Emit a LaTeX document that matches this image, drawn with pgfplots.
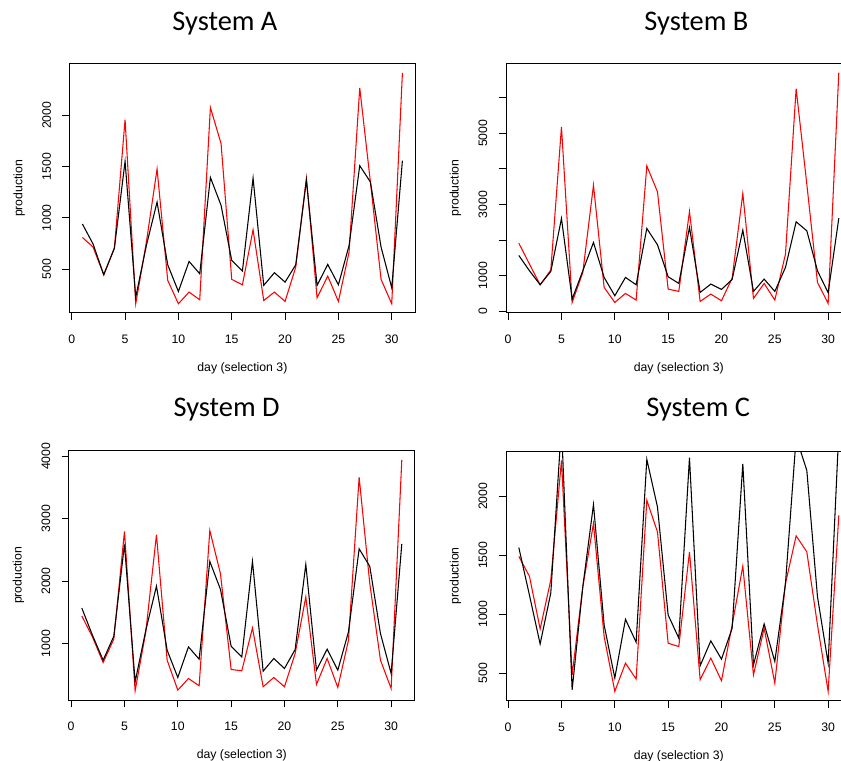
\documentclass[border=0pt]{standalone}
\usepackage{fontspec}
\setmainfont{Liberation Sans}
\newfontfamily\titlefont{Carlito}
\usepackage{pgfplots}
\pgfplotsset{compat=1.18}
\usepackage{pgfplotstable}

% columns: day, black series, red series
\pgfplotstableread{
day blk red
1 940 809
2 745 715
3 445 445
4 705 705
5 1551 1958
6 227 162
7 731 764
8 1154 1477
9 542 390
10 282 162
11 575 276
12 455 201
13 1394 2076
14 1122 1724
15 585 400
16 481 347
17 1388 884
18 341 194
19 465 276
20 373 185
21 542 520
22 1366 1388
23 341 220
24 546 432
25 347 185
26 731 666
27 1509 2268
28 1350 1350
29 715 400
30 318 162
31 1558 2414
}\tabA

\pgfplotstableread{
day blk red
1 1570 1916
2 1140 1327
3 748 748
4 1121 1159
5 2607 5178
6 346 252
7 1140 1093
8 1935 3542
9 953 673
10 439 252
11 953 505
12 748 318
13 2327 4084
14 1869 3355
15 972 626
16 785 561
17 2355 2804
18 533 280
19 766 486
20 617 299
21 897 935
22 2280 3308
23 561 364
24 907 785
25 561 318
26 1234 1607
27 2514 6252
28 2262 3570
29 1140 813
30 523 224
31 2617 6701
}\tabB

\pgfplotstableread{
day blk red
1 1570 1442
2 1133 1107
3 734 697
4 1117 1070
5 2588 2796
6 388 244
7 1213 1187
8 1921 2743
9 894 734
10 457 254
11 947 441
12 750 324
13 2316 2811
14 1868 2119
15 958 585
16 787 564
17 2316 1251
18 558 308
19 761 457
20 601 308
21 904 840
22 2268 1746
23 574 345
24 910 761
25 574 297
26 1187 1053
27 2518 3664
28 2236 1959
29 1160 734
30 521 281
31 2598 3941
}\tabD

\pgfplotstableread{
day blk red
1 1565 1490
2 1160 1320
3 747 874
4 1180 1290
5 2600 2304
6 358 485
7 1232 1232
8 1929 1768
9 908 809
10 458 345
11 956 584
12 762 449
13 2313 1966
14 1909 1697
15 993 753
16 796 725
17 2327 1528
18 562 444
19 773 627
20 618 435
21 880 908
22 2275 1407
23 570 485
24 917 880
25 598 415
26 1260 1260
27 2500 1664
28 2219 1528
29 1148 908
30 584 345
31 2550 1838
}\tabC

\pgfplotsset{
  rpanel/.style={
    scale only axis, width=259.2pt, height=187pt,
    xmin=-0.2, xmax=32.2,
    axis line style={line width=0.75pt, black},
    xtick={0,5,...,30}, xticklabels={0,5,10,15,20,25,30},
    xtick pos=left, ytick pos=left,
    tick align=outside,
    major tick length=5.5pt,
    tick style={black, line width=0.75pt},
    ticklabel style={font=\fontsize{9.2}{10}\selectfont},
    xticklabel shift=7.5pt, yticklabel shift=5pt,
    yticklabel style={rotate=90, anchor=south},
    xlabel={day (selection 3)}, ylabel={production},
    every axis x label/.style={at={(axis description cs:0.5,-0.222)}, anchor=center, font=\fontsize{9.2}{10}\selectfont},
    every axis y label/.style={at={(axis description cs:-0.146,0.5)}, rotate=90, anchor=center, font=\fontsize{9.2}{10}\selectfont},
    title style={font=\titlefont\fontsize{21.3}{24}\selectfont, anchor=base},
    clip=true,
  },
  redline/.style={red, line width=0.8pt, no markers},
  blkline/.style={black, line width=0.8pt, no markers},
}

\begin{document}
\begin{tikzpicture}
\path[use as bounding box] (0,0) rectangle (630.75pt,570pt);
\clip (0,0) rectangle (630.75pt,570pt);

% System A
\begin{axis}[rpanel, at={(52.2pt,335.25pt)}, anchor=south west,
    ymin=72, ymax=2504,
    ytick={500,1000,1500,2000}, yticklabels={500,1000,1500,2000},
    title={System A}, title style={at={(axis description cs:0.4495,1.10)}}]
  \addplot[redline] table[x=day,y=red] {\tabA};
  \addplot[blkline] table[x=day,y=blk] {\tabA};
\end{axis}

% System B
\begin{axis}[rpanel, at={(379.5pt,335.5pt)}, anchor=south west,
    ymin=-35, ymax=6960,
    ytick={0,1000,...,6000}, yticklabels={0,1000,,3000,,5000,},
    title={System B}, title style={at={(axis description cs:0.551,1.10)}}]
  \addplot[redline] table[x=day,y=red] {\tabB};
  \addplot[blkline] table[x=day,y=blk] {\tabB};
\end{axis}

% System D
\begin{axis}[rpanel, at={(51.75pt,45pt)}, anchor=south west,
    ymin=96, ymax=4090,
    ytick={1000,2000,3000,4000}, yticklabels={1000,2000,3000,4000},
    title={System D}, title style={at={(axis description cs:0.456,1.103)}}]
  \addplot[redline] table[x=day,y=red] {\tabD};
  \addplot[blkline] table[x=day,y=blk] {\tabD};
\end{axis}

% System C
\begin{axis}[rpanel, at={(379.5pt,44.6pt)}, anchor=south west,
    ymin=267, ymax=2382,
    ytick={500,1000,1500,2000}, yticklabels={500,1000,1500,2000},
    title={System C}, title style={at={(axis description cs:0.556,1.108)}}]
  \addplot[redline] table[x=day,y=red] {\tabC};
  \addplot[blkline] table[x=day,y=blk] {\tabC};
\end{axis}
\end{tikzpicture}
\end{document}
